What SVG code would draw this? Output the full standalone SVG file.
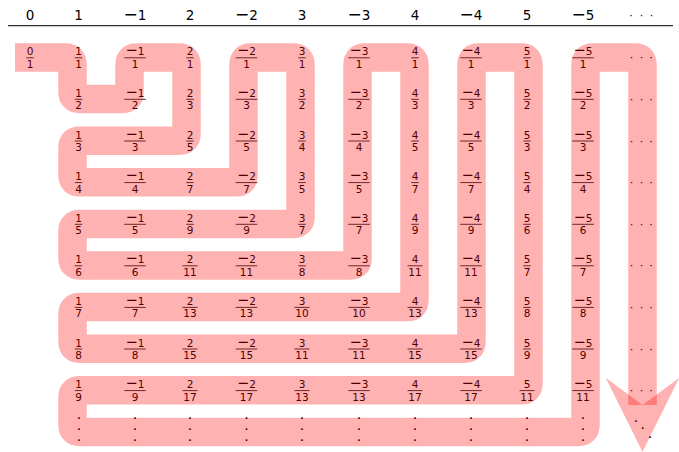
<svg xmlns="http://www.w3.org/2000/svg" xmlns:xlink="http://www.w3.org/1999/xlink" width="679" height="452" viewBox="0 0 679 452">
<style>
.t{font-family:"DejaVu Sans","Liberation Sans",sans-serif;font-size:10.5px;text-anchor:middle;fill:#000}
.h{font-size:13.5px}
.m{font-size:14.5px}
.hm{font-size:17px}
.vd{font-size:9px;font-weight:bold}
.bar{stroke:#000;stroke-width:0.8;fill:none}
.band{fill:none;stroke:#f00;stroke-opacity:0.3;stroke-width:28.5;stroke-linecap:butt;stroke-linejoin:round}
.arrow{fill:#f00;fill-opacity:0.3;stroke:none}
</style>
<defs>
<path id="b1" class="bar" d="M-3.75 0.3h7.5"/>
<path id="b2" class="bar" d="M-7.5 0.3h15"/>
<path id="bn" class="bar" d="M-10.75 0.3h21.5"/>
</defs>
<rect width="679" height="452" fill="#fff"/>
<g id="header" class="t h">
<text x="30" y="19.5">0</text>
<text x="78.5" y="19.5">1</text>
<text x="135" y="19.5"><tspan class="hm">−</tspan>1</text>
<text x="190" y="19.5">2</text>
<text x="246.5" y="19.5"><tspan class="hm">−</tspan>2</text>
<text x="302" y="19.5">3</text>
<text x="359" y="19.5"><tspan class="hm">−</tspan>3</text>
<text x="415" y="19.5">4</text>
<text x="471" y="19.5"><tspan class="hm">−</tspan>4</text>
<text x="527" y="19.5">5</text>
<text x="583" y="19.5"><tspan class="hm">−</tspan>5</text>
<text y="18.8" style="font-size:11px"><tspan x="631">·</tspan><tspan x="641.5">·</tspan><tspan x="651.5">·</tspan></text>
<path d="M8 25.7H673" stroke="#000" stroke-width="1"/>
</g>
<g class="t">
<g id="z0_1" transform="translate(30,57.5)"><text y="-2.2">0</text><use href="#b1"/><text y="10.4">1</text></g>
<g id="col_p1">
<g id="p1_1" transform="translate(78.5,57.5)"><text y="-2.2">1</text><use href="#b1"/><text y="10.4">1</text></g>
<g id="p1_2" transform="translate(78.5,99)"><text y="-2.2">1</text><use href="#b1"/><text y="10.4">2</text></g>
<g id="p1_3" transform="translate(78.5,140.7)"><text y="-2.2">1</text><use href="#b1"/><text y="10.4">3</text></g>
<g id="p1_4" transform="translate(78.5,182.3)"><text y="-2.2">1</text><use href="#b1"/><text y="10.4">4</text></g>
<g id="p1_5" transform="translate(78.5,224)"><text y="-2.2">1</text><use href="#b1"/><text y="10.4">5</text></g>
<g id="p1_6" transform="translate(78.5,265.5)"><text y="-2.2">1</text><use href="#b1"/><text y="10.4">6</text></g>
<g id="p1_7" transform="translate(78.5,307.1)"><text y="-2.2">1</text><use href="#b1"/><text y="10.4">7</text></g>
<g id="p1_8" transform="translate(78.5,348.7)"><text y="-2.2">1</text><use href="#b1"/><text y="10.4">8</text></g>
<g id="p1_9" transform="translate(78.5,390.3)"><text y="-2.2">1</text><use href="#b1"/><text y="10.4">9</text></g>
</g>
<g id="col_m1">
<g id="m1_1" transform="translate(135,57.5)"><text y="-2.2"><tspan class="m">−</tspan>1</text><use href="#bn"/><text y="10.4">1</text></g>
<g id="m1_2" transform="translate(135,99)"><text y="-2.2"><tspan class="m">−</tspan>1</text><use href="#bn"/><text y="10.4">2</text></g>
<g id="m1_3" transform="translate(135,140.7)"><text y="-2.2"><tspan class="m">−</tspan>1</text><use href="#bn"/><text y="10.4">3</text></g>
<g id="m1_4" transform="translate(135,182.3)"><text y="-2.2"><tspan class="m">−</tspan>1</text><use href="#bn"/><text y="10.4">4</text></g>
<g id="m1_5" transform="translate(135,224)"><text y="-2.2"><tspan class="m">−</tspan>1</text><use href="#bn"/><text y="10.4">5</text></g>
<g id="m1_6" transform="translate(135,265.5)"><text y="-2.2"><tspan class="m">−</tspan>1</text><use href="#bn"/><text y="10.4">6</text></g>
<g id="m1_7" transform="translate(135,307.1)"><text y="-2.2"><tspan class="m">−</tspan>1</text><use href="#bn"/><text y="10.4">7</text></g>
<g id="m1_8" transform="translate(135,348.7)"><text y="-2.2"><tspan class="m">−</tspan>1</text><use href="#bn"/><text y="10.4">8</text></g>
<g id="m1_9" transform="translate(135,390.3)"><text y="-2.2"><tspan class="m">−</tspan>1</text><use href="#bn"/><text y="10.4">9</text></g>
</g>
<g id="col_p2">
<g id="p2_1" transform="translate(190,57.5)"><text y="-2.2">2</text><use href="#b1"/><text y="10.4">1</text></g>
<g id="p2_3" transform="translate(190,99)"><text y="-2.2">2</text><use href="#b1"/><text y="10.4">3</text></g>
<g id="p2_5" transform="translate(190,140.7)"><text y="-2.2">2</text><use href="#b1"/><text y="10.4">5</text></g>
<g id="p2_7" transform="translate(190,182.3)"><text y="-2.2">2</text><use href="#b1"/><text y="10.4">7</text></g>
<g id="p2_9" transform="translate(190,224)"><text y="-2.2">2</text><use href="#b1"/><text y="10.4">9</text></g>
<g id="p2_11" transform="translate(190,265.5)"><text y="-2.2">2</text><use href="#b2"/><text y="10.4">11</text></g>
<g id="p2_13" transform="translate(190,307.1)"><text y="-2.2">2</text><use href="#b2"/><text y="10.4">13</text></g>
<g id="p2_15" transform="translate(190,348.7)"><text y="-2.2">2</text><use href="#b2"/><text y="10.4">15</text></g>
<g id="p2_17" transform="translate(190,390.3)"><text y="-2.2">2</text><use href="#b2"/><text y="10.4">17</text></g>
</g>
<g id="col_m2">
<g id="m2_1" transform="translate(246.5,57.5)"><text y="-2.2"><tspan class="m">−</tspan>2</text><use href="#bn"/><text y="10.4">1</text></g>
<g id="m2_3" transform="translate(246.5,99)"><text y="-2.2"><tspan class="m">−</tspan>2</text><use href="#bn"/><text y="10.4">3</text></g>
<g id="m2_5" transform="translate(246.5,140.7)"><text y="-2.2"><tspan class="m">−</tspan>2</text><use href="#bn"/><text y="10.4">5</text></g>
<g id="m2_7" transform="translate(246.5,182.3)"><text y="-2.2"><tspan class="m">−</tspan>2</text><use href="#bn"/><text y="10.4">7</text></g>
<g id="m2_9" transform="translate(246.5,224)"><text y="-2.2"><tspan class="m">−</tspan>2</text><use href="#bn"/><text y="10.4">9</text></g>
<g id="m2_11" transform="translate(246.5,265.5)"><text y="-2.2"><tspan class="m">−</tspan>2</text><use href="#bn"/><text y="10.4">11</text></g>
<g id="m2_13" transform="translate(246.5,307.1)"><text y="-2.2"><tspan class="m">−</tspan>2</text><use href="#bn"/><text y="10.4">13</text></g>
<g id="m2_15" transform="translate(246.5,348.7)"><text y="-2.2"><tspan class="m">−</tspan>2</text><use href="#bn"/><text y="10.4">15</text></g>
<g id="m2_17" transform="translate(246.5,390.3)"><text y="-2.2"><tspan class="m">−</tspan>2</text><use href="#bn"/><text y="10.4">17</text></g>
</g>
<g id="col_p3">
<g id="p3_1" transform="translate(302,57.5)"><text y="-2.2">3</text><use href="#b1"/><text y="10.4">1</text></g>
<g id="p3_2" transform="translate(302,99)"><text y="-2.2">3</text><use href="#b1"/><text y="10.4">2</text></g>
<g id="p3_4" transform="translate(302,140.7)"><text y="-2.2">3</text><use href="#b1"/><text y="10.4">4</text></g>
<g id="p3_5" transform="translate(302,182.3)"><text y="-2.2">3</text><use href="#b1"/><text y="10.4">5</text></g>
<g id="p3_7" transform="translate(302,224)"><text y="-2.2">3</text><use href="#b1"/><text y="10.4">7</text></g>
<g id="p3_8" transform="translate(302,265.5)"><text y="-2.2">3</text><use href="#b1"/><text y="10.4">8</text></g>
<g id="p3_10" transform="translate(302,307.1)"><text y="-2.2">3</text><use href="#b2"/><text y="10.4">10</text></g>
<g id="p3_11" transform="translate(302,348.7)"><text y="-2.2">3</text><use href="#b2"/><text y="10.4">11</text></g>
<g id="p3_13" transform="translate(302,390.3)"><text y="-2.2">3</text><use href="#b2"/><text y="10.4">13</text></g>
</g>
<g id="col_m3">
<g id="m3_1" transform="translate(359,57.5)"><text y="-2.2"><tspan class="m">−</tspan>3</text><use href="#bn"/><text y="10.4">1</text></g>
<g id="m3_2" transform="translate(359,99)"><text y="-2.2"><tspan class="m">−</tspan>3</text><use href="#bn"/><text y="10.4">2</text></g>
<g id="m3_4" transform="translate(359,140.7)"><text y="-2.2"><tspan class="m">−</tspan>3</text><use href="#bn"/><text y="10.4">4</text></g>
<g id="m3_5" transform="translate(359,182.3)"><text y="-2.2"><tspan class="m">−</tspan>3</text><use href="#bn"/><text y="10.4">5</text></g>
<g id="m3_7" transform="translate(359,224)"><text y="-2.2"><tspan class="m">−</tspan>3</text><use href="#bn"/><text y="10.4">7</text></g>
<g id="m3_8" transform="translate(359,265.5)"><text y="-2.2"><tspan class="m">−</tspan>3</text><use href="#bn"/><text y="10.4">8</text></g>
<g id="m3_10" transform="translate(359,307.1)"><text y="-2.2"><tspan class="m">−</tspan>3</text><use href="#bn"/><text y="10.4">10</text></g>
<g id="m3_11" transform="translate(359,348.7)"><text y="-2.2"><tspan class="m">−</tspan>3</text><use href="#bn"/><text y="10.4">11</text></g>
<g id="m3_13" transform="translate(359,390.3)"><text y="-2.2"><tspan class="m">−</tspan>3</text><use href="#bn"/><text y="10.4">13</text></g>
</g>
<g id="col_p4">
<g id="p4_1" transform="translate(415,57.5)"><text y="-2.2">4</text><use href="#b1"/><text y="10.4">1</text></g>
<g id="p4_3" transform="translate(415,99)"><text y="-2.2">4</text><use href="#b1"/><text y="10.4">3</text></g>
<g id="p4_5" transform="translate(415,140.7)"><text y="-2.2">4</text><use href="#b1"/><text y="10.4">5</text></g>
<g id="p4_7" transform="translate(415,182.3)"><text y="-2.2">4</text><use href="#b1"/><text y="10.4">7</text></g>
<g id="p4_9" transform="translate(415,224)"><text y="-2.2">4</text><use href="#b1"/><text y="10.4">9</text></g>
<g id="p4_11" transform="translate(415,265.5)"><text y="-2.2">4</text><use href="#b2"/><text y="10.4">11</text></g>
<g id="p4_13" transform="translate(415,307.1)"><text y="-2.2">4</text><use href="#b2"/><text y="10.4">13</text></g>
<g id="p4_15" transform="translate(415,348.7)"><text y="-2.2">4</text><use href="#b2"/><text y="10.4">15</text></g>
<g id="p4_17" transform="translate(415,390.3)"><text y="-2.2">4</text><use href="#b2"/><text y="10.4">17</text></g>
</g>
<g id="col_m4">
<g id="m4_1" transform="translate(471,57.5)"><text y="-2.2"><tspan class="m">−</tspan>4</text><use href="#bn"/><text y="10.4">1</text></g>
<g id="m4_3" transform="translate(471,99)"><text y="-2.2"><tspan class="m">−</tspan>4</text><use href="#bn"/><text y="10.4">3</text></g>
<g id="m4_5" transform="translate(471,140.7)"><text y="-2.2"><tspan class="m">−</tspan>4</text><use href="#bn"/><text y="10.4">5</text></g>
<g id="m4_7" transform="translate(471,182.3)"><text y="-2.2"><tspan class="m">−</tspan>4</text><use href="#bn"/><text y="10.4">7</text></g>
<g id="m4_9" transform="translate(471,224)"><text y="-2.2"><tspan class="m">−</tspan>4</text><use href="#bn"/><text y="10.4">9</text></g>
<g id="m4_11" transform="translate(471,265.5)"><text y="-2.2"><tspan class="m">−</tspan>4</text><use href="#bn"/><text y="10.4">11</text></g>
<g id="m4_13" transform="translate(471,307.1)"><text y="-2.2"><tspan class="m">−</tspan>4</text><use href="#bn"/><text y="10.4">13</text></g>
<g id="m4_15" transform="translate(471,348.7)"><text y="-2.2"><tspan class="m">−</tspan>4</text><use href="#bn"/><text y="10.4">15</text></g>
<g id="m4_17" transform="translate(471,390.3)"><text y="-2.2"><tspan class="m">−</tspan>4</text><use href="#bn"/><text y="10.4">17</text></g>
</g>
<g id="col_p5">
<g id="p5_1" transform="translate(527,57.5)"><text y="-2.2">5</text><use href="#b1"/><text y="10.4">1</text></g>
<g id="p5_2" transform="translate(527,99)"><text y="-2.2">5</text><use href="#b1"/><text y="10.4">2</text></g>
<g id="p5_3" transform="translate(527,140.7)"><text y="-2.2">5</text><use href="#b1"/><text y="10.4">3</text></g>
<g id="p5_4" transform="translate(527,182.3)"><text y="-2.2">5</text><use href="#b1"/><text y="10.4">4</text></g>
<g id="p5_6" transform="translate(527,224)"><text y="-2.2">5</text><use href="#b1"/><text y="10.4">6</text></g>
<g id="p5_7" transform="translate(527,265.5)"><text y="-2.2">5</text><use href="#b1"/><text y="10.4">7</text></g>
<g id="p5_8" transform="translate(527,307.1)"><text y="-2.2">5</text><use href="#b1"/><text y="10.4">8</text></g>
<g id="p5_9" transform="translate(527,348.7)"><text y="-2.2">5</text><use href="#b1"/><text y="10.4">9</text></g>
<g id="p5_11" transform="translate(527,390.3)"><text y="-2.2">5</text><use href="#b2"/><text y="10.4">11</text></g>
</g>
<g id="col_m5">
<g id="m5_1" transform="translate(583,57.5)"><text y="-2.2"><tspan class="m">−</tspan>5</text><use href="#bn"/><text y="10.4">1</text></g>
<g id="m5_2" transform="translate(583,99)"><text y="-2.2"><tspan class="m">−</tspan>5</text><use href="#bn"/><text y="10.4">2</text></g>
<g id="m5_3" transform="translate(583,140.7)"><text y="-2.2"><tspan class="m">−</tspan>5</text><use href="#bn"/><text y="10.4">3</text></g>
<g id="m5_4" transform="translate(583,182.3)"><text y="-2.2"><tspan class="m">−</tspan>5</text><use href="#bn"/><text y="10.4">4</text></g>
<g id="m5_6" transform="translate(583,224)"><text y="-2.2"><tspan class="m">−</tspan>5</text><use href="#bn"/><text y="10.4">6</text></g>
<g id="m5_7" transform="translate(583,265.5)"><text y="-2.2"><tspan class="m">−</tspan>5</text><use href="#bn"/><text y="10.4">7</text></g>
<g id="m5_8" transform="translate(583,307.1)"><text y="-2.2"><tspan class="m">−</tspan>5</text><use href="#bn"/><text y="10.4">8</text></g>
<g id="m5_9" transform="translate(583,348.7)"><text y="-2.2"><tspan class="m">−</tspan>5</text><use href="#bn"/><text y="10.4">9</text></g>
<g id="m5_11" transform="translate(583,390.3)"><text y="-2.2"><tspan class="m">−</tspan>5</text><use href="#bn"/><text y="10.4">11</text></g>
</g>
<g id="col_more" style="font-size:11px">
<text transform="translate(641.5,57.5)" y="3.8"><tspan x="-10">·</tspan><tspan x="0">·</tspan><tspan x="9.5">·</tspan></text>
<text transform="translate(641.5,99)" y="3.8"><tspan x="-10">·</tspan><tspan x="0">·</tspan><tspan x="9.5">·</tspan></text>
<text transform="translate(641.5,140.7)" y="3.8"><tspan x="-10">·</tspan><tspan x="0">·</tspan><tspan x="9.5">·</tspan></text>
<text transform="translate(641.5,182.3)" y="3.8"><tspan x="-10">·</tspan><tspan x="0">·</tspan><tspan x="9.5">·</tspan></text>
<text transform="translate(641.5,224)" y="3.8"><tspan x="-10">·</tspan><tspan x="0">·</tspan><tspan x="9.5">·</tspan></text>
<text transform="translate(641.5,265.5)" y="3.8"><tspan x="-10">·</tspan><tspan x="0">·</tspan><tspan x="9.5">·</tspan></text>
<text transform="translate(641.5,307.1)" y="3.8"><tspan x="-10">·</tspan><tspan x="0">·</tspan><tspan x="9.5">·</tspan></text>
<text transform="translate(641.5,348.7)" y="3.8"><tspan x="-10">·</tspan><tspan x="0">·</tspan><tspan x="9.5">·</tspan></text>
<text transform="translate(641.5,390.3)" y="3.8"><tspan x="-10">·</tspan><tspan x="0">·</tspan><tspan x="9.5">·</tspan></text>
</g>
<g id="vdots" class="vd">
<text><tspan x="79" y="418.5">.</tspan><tspan x="79" y="429.8">.</tspan><tspan x="79" y="440.8">.</tspan></text>
<text><tspan x="135" y="418.5">.</tspan><tspan x="135" y="429.8">.</tspan><tspan x="135" y="440.8">.</tspan></text>
<text><tspan x="190" y="418.5">.</tspan><tspan x="190" y="429.8">.</tspan><tspan x="190" y="440.8">.</tspan></text>
<text><tspan x="246.5" y="418.5">.</tspan><tspan x="246.5" y="429.8">.</tspan><tspan x="246.5" y="440.8">.</tspan></text>
<text><tspan x="302" y="418.5">.</tspan><tspan x="302" y="429.8">.</tspan><tspan x="302" y="440.8">.</tspan></text>
<text><tspan x="359" y="418.5">.</tspan><tspan x="359" y="429.8">.</tspan><tspan x="359" y="440.8">.</tspan></text>
<text><tspan x="415" y="418.5">.</tspan><tspan x="415" y="429.8">.</tspan><tspan x="415" y="440.8">.</tspan></text>
<text><tspan x="471" y="418.5">.</tspan><tspan x="471" y="429.8">.</tspan><tspan x="471" y="440.8">.</tspan></text>
<text><tspan x="527" y="418.5">.</tspan><tspan x="527" y="429.8">.</tspan><tspan x="527" y="440.8">.</tspan></text>
<text><tspan x="583" y="418.5">.</tspan><tspan x="583" y="429.8">.</tspan><tspan x="583" y="440.8">.</tspan></text>
<text><tspan x="636" y="421.8">.</tspan><tspan x="642.7" y="429.1">.</tspan><tspan x="650" y="437.5">.</tspan></text>
</g>
</g>
<g id="connectors">
<path class="band" d="M15 57.5 L65.5 57.5 Q72.5 57.5 72.5 64.5 L72.5 92 Q72.5 99 79.5 99 L122.5 99 Q129.5 99 129.5 92 L129.5 64.5 Q129.5 57.5 136.5 57.5 L179.5 57.5 Q186.5 57.5 186.5 64.5 L186.5 133.7 Q186.5 140.7 179.5 140.7 L79.5 140.7 Q72.5 140.7 72.5 147.7 L72.5 175.3 Q72.5 182.3 79.5 182.3 L236.5 182.3 Q243.5 182.3 243.5 175.3 L243.5 64.5 Q243.5 57.5 250.5 57.5 L293.5 57.5 Q300.5 57.5 300.5 64.5 L300.5 217 Q300.5 224 293.5 224 L79.5 224 Q72.5 224 72.5 231 L72.5 258.5 Q72.5 265.5 79.5 265.5 L350.5 265.5 Q357.5 265.5 357.5 258.5 L357.5 64.5 Q357.5 57.5 364.5 57.5 L407.5 57.5 Q414.5 57.5 414.5 64.5 L414.5 300.1 Q414.5 307.1 407.5 307.1 L79.5 307.1 Q72.5 307.1 72.5 314.1 L72.5 341.7 Q72.5 348.7 79.5 348.7 L464.5 348.7 Q471.5 348.7 471.5 341.7 L471.5 64.5 Q471.5 57.5 478.5 57.5 L521.5 57.5 Q528.5 57.5 528.5 64.5 L528.5 383.3 Q528.5 390.3 521.5 390.3 L79.5 390.3 Q72.5 390.3 72.5 397.3 L72.5 425 Q72.5 432 79.5 432 L578.5 432 Q585.5 432 585.5 425 L585.5 64.5 Q585.5 57.5 592.5 57.5 L635.5 57.5 Q642.5 57.5 642.5 64.5 L642.5 405"/>
<path class="arrow" d="M605.7 377.7 L642.5 405 L679.3 377.7 L642.5 452 Z"/>
</g>
</svg>
